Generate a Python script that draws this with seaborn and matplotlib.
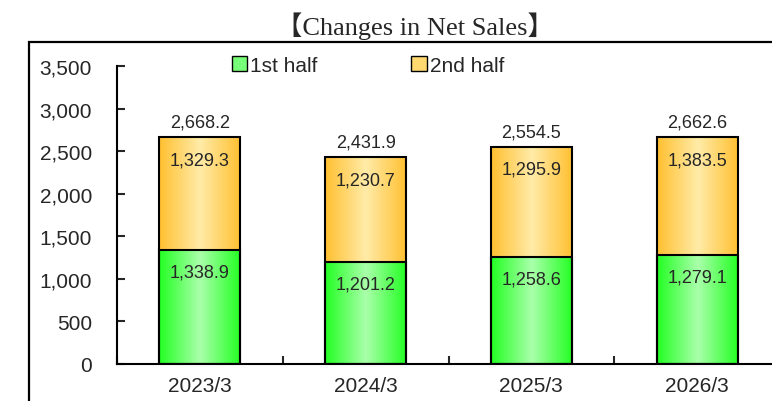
import matplotlib
matplotlib.use("Agg")
import matplotlib.pyplot as plt
import matplotlib.patches as mpatches
from matplotlib.colors import LinearSegmentedColormap
import numpy as np
import pandas as pd
import seaborn as sns

# data
periods = ["2023/3", "2024/3", "2025/3", "2026/3"]
first_half = [1338.9, 1201.2, 1258.6, 1279.1]
second_half = [1329.3, 1230.7, 1295.9, 1383.5]
totals = [2668.2, 2431.9, 2554.5, 2662.6]

df = pd.DataFrame({"period": periods, "first": first_half,
                   "second": second_half, "total": totals})

sns.set_style("white")
plt.rcParams['font.family'] = ['Liberation Sans', 'DejaVu Sans']

fig = plt.figure(figsize=(7.72, 4.02), dpi=100)
ax = fig.add_axes([117 / 772, 37 / 402, 663 / 772, 298 / 402])

# stacked bars: totals first (2nd half shows above), then 1st half on top
sns.barplot(data=df, x="period", y="total", order=periods, color="#FFC030",
            width=0.49, edgecolor="black", linewidth=1.5, saturation=1, ax=ax)
sns.barplot(data=df, x="period", y="first", order=periods, color="#22FF22",
            width=0.49, edgecolor="black", linewidth=1.5, saturation=1, ax=ax)

green_cmap = LinearSegmentedColormap.from_list("g", ["#22FF22", "#AAFFAA", "#22FF22"])
orange_cmap = LinearSegmentedColormap.from_list("o", ["#FFC030", "#FFEBA8", "#FFC030"])
grad = np.linspace(0, 1, 256).reshape(1, -1)

n = len(periods)
for i, p in enumerate(ax.patches):
    cmap = orange_cmap if i < n else green_cmap
    x, y, w, h = p.get_x(), p.get_y(), p.get_width(), p.get_height()
    if i < n:
        # only the 2nd-half part of the total bar needs the orange fill
        y = first_half[i]
        h = totals[i] - first_half[i]
    ax.imshow(grad, cmap=cmap, aspect="auto", extent=[x, x + w, y, y + h],
              zorder=1.5, interpolation="bicubic")
    p.set_facecolor("none")
    p.set_zorder(2)

# value labels
for i in range(n):
    ax.text(i, totals[i] + 176, f"{totals[i]:,.1f}", ha="center", va="center", fontsize=13)
    ax.text(i, totals[i] - 270, f"{second_half[i]:,.1f}", ha="center", va="center", fontsize=13)
    ax.text(i, first_half[i] - 262, f"{first_half[i]:,.1f}", ha="center", va="center", fontsize=13)

ax.set_xlim(-0.5, n - 0.5)
ax.set_ylim(0, 3500)
ax.set_yticks(np.arange(0, 3501, 500))
ax.set_yticklabels([f"{v:,}" for v in range(0, 3501, 500)])
ax.set_xlabel("")
ax.set_ylabel("")
ax.set_xticks(np.arange(-0.5, n, 1), minor=True)
ax.tick_params(axis="y", direction="in", length=6, width=1.5, pad=18, labelsize=15, left=True)
ax.tick_params(axis="x", which="major", length=0, pad=9, labelsize=15)
ax.tick_params(axis="x", which="minor", direction="in", length=6, width=1.5, bottom=True)

for s in ["top", "right"]:
    ax.spines[s].set_visible(False)
for s in ["left", "bottom"]:
    ax.spines[s].set_visible(True)
    ax.spines[s].set_linewidth(1.5)
    ax.spines[s].set_color("black")

handles = [mpatches.Patch(facecolor="#77FF77", edgecolor="black", label="1st half"),
           mpatches.Patch(facecolor="#FFD870", edgecolor="black", label="2nd half")]
fig.legend(handles=handles, loc="center", bbox_to_anchor=(368 / 772, 1 - 66 / 402),
           ncol=2, frameon=False, fontsize=15, handlelength=0.75, handleheight=0.75,
           handletextpad=0.15, columnspacing=4.5, borderaxespad=0)

# outer frame
frame = mpatches.Rectangle((29 / 772, -0.1), 1.2, 1 - 43 / 402 + 0.1, transform=fig.transFigure,
                           fill=False, edgecolor="black", linewidth=1.6)
fig.add_artist(frame)

fig.text(415 / 772, 1 - 26 / 402, "【Changes in Net Sales】", ha="center", va="center",
         fontsize=19, family=["Liberation Serif", "Noto Sans CJK JP"])

fig.savefig("out.png", dpi=100)
